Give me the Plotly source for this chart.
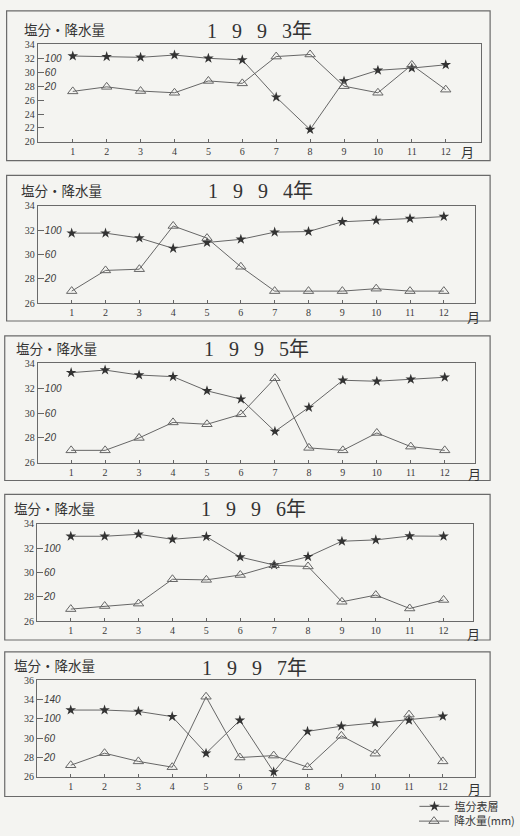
import plotly.graph_objects as go

W, H = 520, 836

months = list(range(1, 13))
month_labels = [str(m) for m in months]
years = ["1993", "1994", "1995", "1996", "1997"]

# Surface salinity (left scale) and monthly precipitation in mm (inner scale)
salinity_1993 = [32.33, 32.23, 32.14, 32.47, 32.0, 31.77, 26.42, 21.77, 28.74, 30.28, 30.6, 31.07]
rain_1993 = [5, 18, 6, 1, 35, 28, 105, 111, 20, 1, 81, 10]

salinity_1994 = [31.76, 31.76, 31.36, 30.51, 30.99, 31.25, 31.84, 31.89, 32.69, 32.8, 32.96, 33.12]
rain_1994 = [0, 34, 36, 107, 87, 40, 0, 0, 0, 4, 0, 0]

salinity_1995 = [33.25, 33.46, 33.06, 32.93, 31.79, 31.12, 28.52, 30.46, 32.64, 32.56, 32.72, 32.88]
rain_1995 = [0, 0, 20, 45, 42, 58, 116, 4, 0, 28, 6, 0]

salinity_1996 = [32.98, 32.98, 33.14, 32.73, 32.95, 31.27, 30.62, 31.3, 32.57, 32.68, 33.0, 32.98]
rain_1996 = [0, 5, 9, 49, 48, 56, 72, 70, 12, 23, 1, 15]

salinity_1997 = [32.92, 32.92, 32.78, 32.24, 28.44, 31.86, 26.51, 30.71, 31.25, 31.59, 31.86, 32.27]
rain_1997 = [4, 29, 12, 0, 146, 20, 24, 0, 65, 28, 109, 12]

salinity = [salinity_1993, salinity_1994, salinity_1995, salinity_1996, salinity_1997]
rain = [rain_1993, rain_1994, rain_1995, rain_1996, rain_1997]

salinity_ticks = [
    [20, 22, 24, 26, 28, 30, 32, 34],
    [26, 28, 30, 32, 34],
    [26, 28, 30, 32, 34],
    [26, 28, 30, 32, 34],
    [26, 28, 30, 32, 34, 36],
]
rain_ticks = [
    [20, 60, 100],
    [20, 60, 100],
    [20, 60, 100],
    [20, 60, 100],
    [20, 60, 100, 140],
]
salinity_ranges = [(20, 34), (26, 34), (26, 34), (26, 34), (26, 36)]

# panel geometry in pixels: plot (l, t, r, b), frame (l, t, r, b), x range
plots = [
    (40, 39, 508, 138),
    (40, 203, 502, 302),
    (40, 363, 502, 464),
    (39, 526, 500, 625),
    (39, 685, 502, 783),
]
frames = [
    (7, 5, 518, 157),
    (7, 172, 518, 320),
    (5, 335, 518, 482),
    (5, 496, 518, 644),
    (5, 656, 518, 803),
]
xranges = [(-0.03, 13.03), (0.0, 12.92), (0.02, 12.89), (0.0, 12.87), (0.0, 12.95)]
title_pos = [(274, 25), (275, 188), (271, 348), (268, 511), (269, 672)]
label_pos = [(23, 23), (20, 187), (15, 347), (13, 510), (13, 669)]
month_unit_pos = [(485, 148), (491, 315), (493, 475), (491, 637), (493, 795)]


def px(x):
    return x / W


def py(y):
    return 1 - y / H


def rain_of(s):
    # 2 salinity units correspond to 40 mm; 28 on the salinity scale is 20 mm
    return 20 + (s - 28) * 20


INK = "#3a3a3a"
LINE = "#666666"
FRAME = "#6a6a6a"
BG = "#f4f4f1"
SERIF = "Liberation Serif, DejaVu Serif, serif"
CJK = "Noto Sans CJK JP, Noto Sans CJK SC, sans-serif"
GAP = "\u00a0\u00a0\u00a0"

legend_style = dict(
    xanchor="left", yanchor="middle",
    font=dict(family=CJK, size=11, color=INK),
    bgcolor="rgba(0,0,0,0)", itemwidth=30,
)

fig = go.Figure()
layout = dict(
    width=W, height=H,
    margin=dict(l=0, r=0, t=0, b=0),
    paper_bgcolor=BG, plot_bgcolor=BG,
    showlegend=True,
    legend=dict(x=px(438), y=py(813), **legend_style),
    legend2=dict(x=px(438), y=py(828), **legend_style),
)
shapes = []
annotations = []

for i, yr in enumerate(years):
    n = i + 1
    xa = "x" if n == 1 else f"x{n}"
    ya = "y" if n == 1 else f"y{n}"
    ya2 = f"y{n + 5}"
    l, t, r, b = plots[i]
    y0, y1 = salinity_ranges[i]

    layout[f"xaxis{'' if n == 1 else n}"] = dict(
        domain=[px(l), px(r)], anchor=ya, range=list(xranges[i]),
        tickvals=months, ticktext=month_labels,
        ticks="inside", ticklen=3, tickcolor=LINE,
        showline=True, mirror=True, linecolor=FRAME, linewidth=1,
        showgrid=False, zeroline=False,
        tickfont=dict(family=SERIF, size=10, color=INK),
    )
    layout[f"yaxis{'' if n == 1 else n}"] = dict(
        domain=[py(b), py(t)], anchor=xa, range=[y0, y1],
        tickvals=salinity_ticks[i],
        ticks="inside", ticklen=6, tickcolor=LINE,
        showline=True, mirror=True, linecolor=FRAME, linewidth=1,
        showgrid=False, zeroline=False,
        tickfont=dict(family=SERIF, size=10, color=INK),
    )
    layout[f"yaxis{n + 5}"] = dict(
        overlaying=ya, anchor=xa, side="left",
        range=[rain_of(y0), rain_of(y1)],
        tickvals=rain_ticks[i],
        ticks="inside", ticklen=6, tickcolor=LINE,
        ticklabelposition="inside",
        showline=False, showgrid=False, zeroline=False,
        tickfont=dict(family="Liberation Sans, DejaVu Sans", size=10,
                      color=INK, style="italic"),
    )

    fig.add_trace(go.Scatter(
        x=months, y=salinity[i], xaxis=xa, yaxis=ya,
        mode="lines+markers", name="塩分表層", legend="legend",
        showlegend=(i == 0),
        line=dict(color=LINE, width=1),
        marker=dict(symbol="star", size=8, color="#333333"),
    ))
    fig.add_trace(go.Scatter(
        x=months, y=rain[i], xaxis=xa, yaxis=ya2,
        mode="lines+markers", name="降水量(mm)", legend="legend2",
        showlegend=(i == 0),
        line=dict(color=LINE, width=1),
        marker=dict(symbol="triangle-up-open", size=9,
                    line=dict(color="#3c3c3c", width=1)),
    ))

    fl, ft, fr, fb = frames[i]
    shapes.append(dict(
        type="rect", xref="paper", yref="paper",
        x0=px(fl), x1=px(fr), y0=py(fb), y1=py(ft),
        line=dict(color=FRAME, width=1.2), layer="below",
    ))

    tx, ty = title_pos[i]
    annotations.append(dict(
        x=px(tx), y=py(ty), xref="paper", yref="paper",
        text=GAP.join(yr) + "年", showarrow=False,
        xanchor="center", yanchor="middle",
        font=dict(family=SERIF + ", " + CJK, size=20, color="#333333"),
    ))
    lx, ly = label_pos[i]
    annotations.append(dict(
        x=px(lx), y=py(ly), xref="paper", yref="paper",
        text="塩分・降水量", showarrow=False,
        xanchor="left", yanchor="middle",
        font=dict(family=CJK, size=13.5, color="#333333"),
    ))
    mx, my = month_unit_pos[i]
    annotations.append(dict(
        x=px(mx), y=py(my), xref="paper", yref="paper",
        text="月", showarrow=False,
        xanchor="left", yanchor="middle",
        font=dict(family=CJK, size=13, color="#333333"),
    ))

layout["shapes"] = shapes
layout["annotations"] = annotations
fig.update_layout(**layout)

# keep the page exactly the size of the figure
page_script = (
    "document.body.style.margin='0';"
    "document.body.style.overflow='hidden';"
)
fig.write_html("out.html", post_script=page_script)
